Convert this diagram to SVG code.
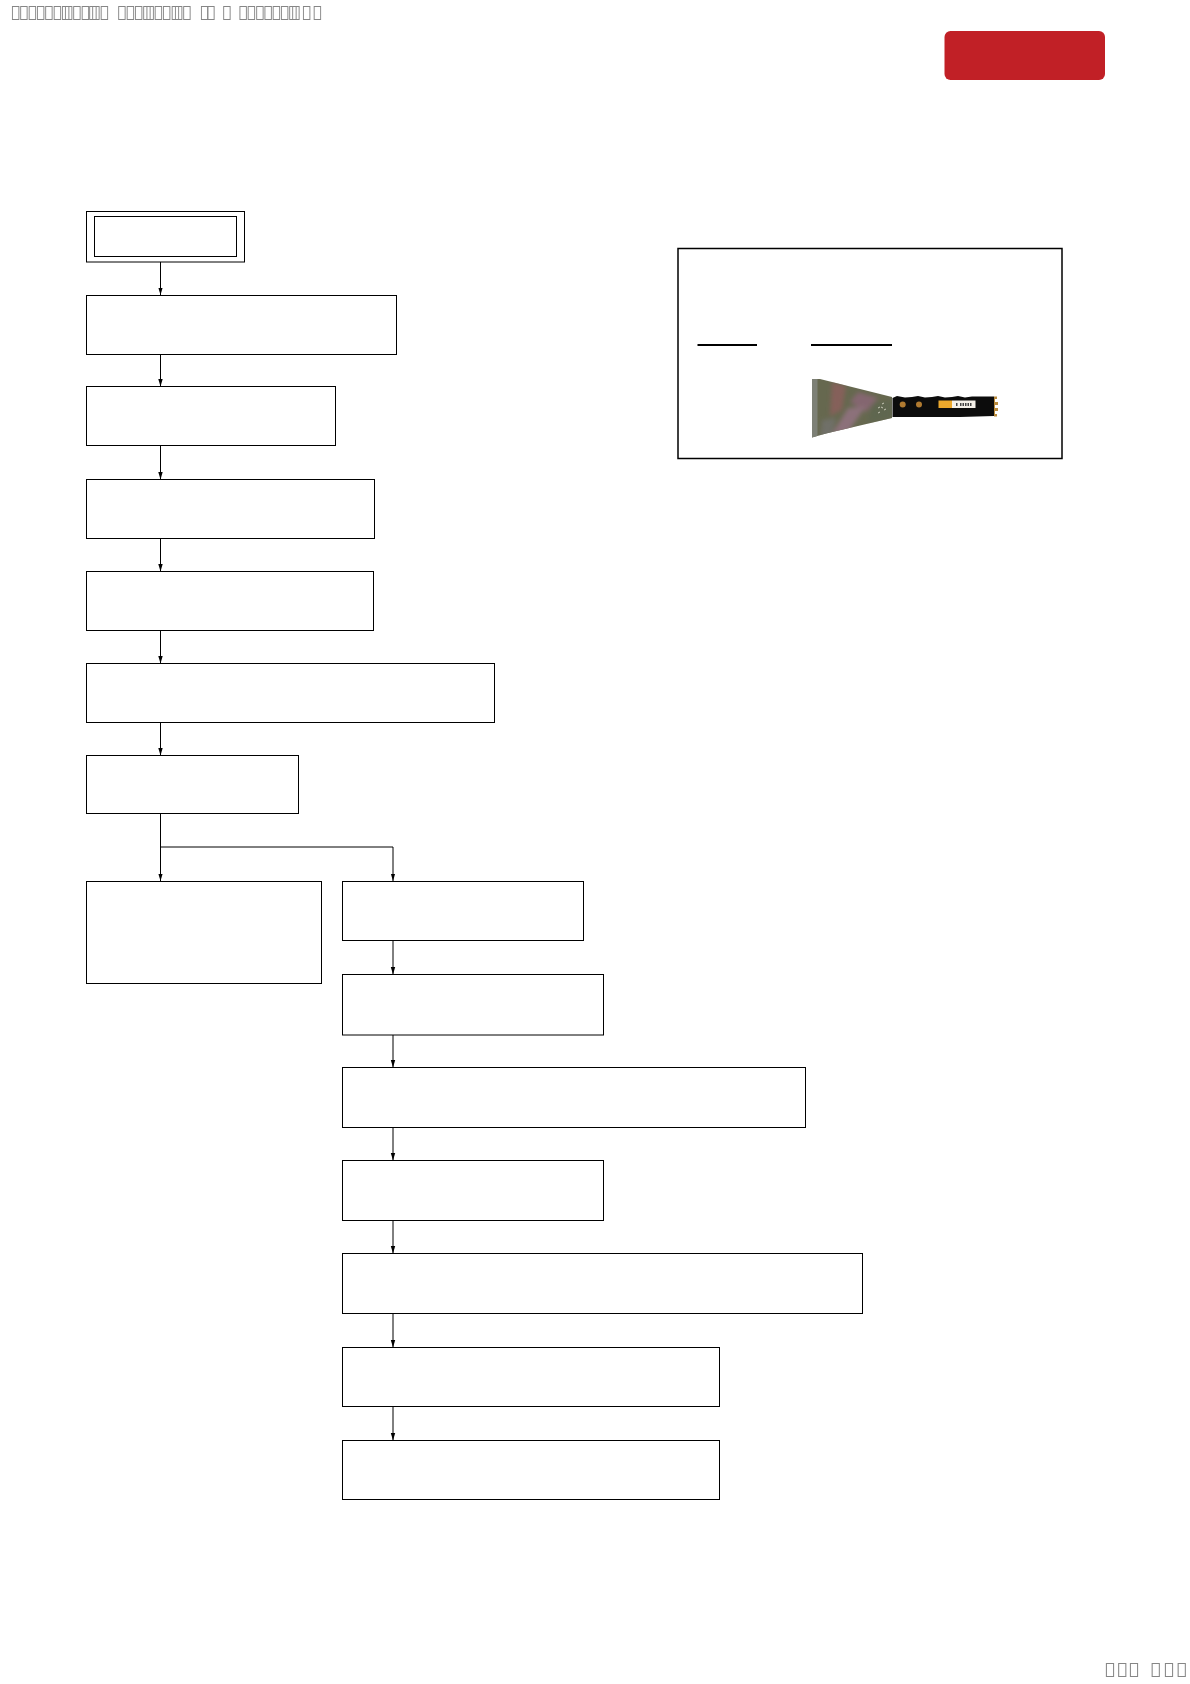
<svg xmlns="http://www.w3.org/2000/svg" width="1190" height="1684" viewBox="0 0 1190 1684">
<style>
.n{fill:#fff;stroke:#000;stroke-width:1}
.c{fill:none;stroke:#000;stroke-width:1}
.t{font-family:"Noto Sans",sans-serif;font-size:20px;fill:#808080;opacity:.95}
</style>
<defs>
<marker id="ah" markerUnits="userSpaceOnUse" markerWidth="8" markerHeight="6" refX="7.500" refY="2.500" orient="auto"><path d="M0,0.300L7.500,2.500L0,4.700z" fill="#000"/></marker>
<clipPath id="bc"><path d="M812,379H820L892,397V418L826,433.500L812,437.500z"/></clipPath>
<filter id="sf" x="-30%" y="-30%" width="160%" height="160%"><feGaussianBlur stdDeviation="2"/></filter>
</defs>
<g id="connectors">
<path class="c" marker-end="url(#ah)" d="M160.500,262V295"/>
<path class="c" marker-end="url(#ah)" d="M160.500,354.500V386.500"/>
<path class="c" marker-end="url(#ah)" d="M160.500,445.500V479.500"/>
<path class="c" marker-end="url(#ah)" d="M160.500,539V571.500"/>
<path class="c" marker-end="url(#ah)" d="M160.500,630.500V663.500"/>
<path class="c" marker-end="url(#ah)" d="M160.500,722.500V755.500"/>
<path class="c" marker-end="url(#ah)" d="M160.500,813.500V881"/>
<path class="c" marker-end="url(#ah)" d="M160.500,847H393V881"/>
<path class="c" marker-end="url(#ah)" d="M393,940.500V974.500"/>
<path class="c" marker-end="url(#ah)" d="M393,1035V1067.500"/>
<path class="c" marker-end="url(#ah)" d="M393,1127.500V1160.500"/>
<path class="c" marker-end="url(#ah)" d="M393,1220.500V1253.500"/>
<path class="c" marker-end="url(#ah)" d="M393,1313.500V1347.500"/>
<path class="c" marker-end="url(#ah)" d="M393,1407V1440.500"/>
</g>
<g id="start"><rect class="n" x="86.500" y="211.500" width="158" height="50.500"/><rect class="n" x="94.500" y="216.500" width="142" height="40"/></g>
<g id="n1"><rect class="n" x="86.500" y="295.500" width="310" height="59"/></g>
<g id="n2"><rect class="n" x="86.500" y="386.500" width="249" height="59"/></g>
<g id="n3"><rect class="n" x="86.500" y="479.500" width="288" height="59"/></g>
<g id="n4"><rect class="n" x="86.500" y="571.500" width="287" height="59"/></g>
<g id="n5"><rect class="n" x="86.500" y="663.500" width="408" height="59"/></g>
<g id="n6"><rect class="n" x="86.500" y="755.500" width="212" height="58"/></g>
<g id="n7"><rect class="n" x="86.500" y="881.500" width="235" height="102"/></g>
<g id="r1"><rect class="n" x="342.500" y="881.500" width="241" height="59"/></g>
<g id="r2"><rect class="n" x="342.500" y="974.500" width="261" height="60.500"/></g>
<g id="r3"><rect class="n" x="342.500" y="1067.500" width="463" height="60"/></g>
<g id="r4"><rect class="n" x="342.500" y="1160.500" width="261" height="60"/></g>
<g id="r5"><rect class="n" x="342.500" y="1253.500" width="520" height="60"/></g>
<g id="r6"><rect class="n" x="342.500" y="1347.500" width="377" height="59"/></g>
<g id="r7"><rect class="n" x="342.500" y="1440.500" width="377" height="59"/></g>
<g id="legend">
<rect x="678" y="248.500" width="384" height="210" fill="#fff" stroke="#000" stroke-width="1.500"/>
<path d="M697.500,345H757M811,345H892" stroke="#000" stroke-width="1.800" fill="none"/>
</g>
<g id="scraper">
<g clip-path="url(#bc)">
<rect x="812" y="378" width="82" height="61" fill="#66684f"/>
<g filter="url(#sf)">
<path d="M832,382L846,386L842,410L830,416z" fill="#85605a"/>
<path d="M858,392L878,398L866,412L850,402z" fill="#84666f"/>
<path d="M848,408L866,406L848,432L832,434z" fill="#8c717a"/>
<path d="M822,420L836,418L832,436L820,438z" fill="#6f6f68"/>
<path d="M872,404L892,400V418L868,422z" fill="#5f6650"/>
</g>
<rect x="812" y="378" width="5.500" height="61" fill="#7d8076"/>
<path d="M878,408l2,-1M882,404l2,-1M878,413l2,-1M884,410l2,-1M881,407l2,1" stroke="#c8c8b8" stroke-width="1" fill="none"/>
</g>
<path d="M892.500,398L897,396L905,397.500L912,397L918,396L925,397.500L932,397L938,396L945,397.500L952,397L958,396L965,397.500L972,396.500L994,396.500V416L960,417H892.500z" fill="#0c0c0c"/>
<path d="M994,396.500H997V399H995V402H998V405H995V408H998V411H995V414H997V416.500H994z" fill="#b88a3c"/>
<circle cx="902.700" cy="404.500" r="3" fill="#b07a30"/><circle cx="919" cy="404.500" r="3" fill="#b07a30"/>
<rect x="938.500" y="400.500" width="13.500" height="7.500" fill="#eca82c"/><rect x="952" y="400.500" width="23.500" height="7.500" fill="#f4f0e8"/>
<path d="M956,404.500H958M960,404.500H972" stroke="#444" stroke-width="3" stroke-dasharray="1.500 1" fill="none"/>
</g>
<g id="badge"><rect x="944.500" y="31" width="160.500" height="49" rx="6" fill="#c12026"/></g>
<text class="t" transform="scale(.9,1)" y="20" x="11.440 20.670 30 39.220 48.440 57.780 67 70.330 79.560 88.780 97.330 100.670 109.890 129.560 138.780 148.110 157.330 160.890 170.110 179.220 188.890 192.560 201.780 221.440 228.440 246.220 264.220 273.440 282.670 291.890 301.110 310.330 319.560 322.890 334.780 346.670">&#xE000;&#xE000;&#xE000;&#xE000;&#xE000;&#xE000;&#xE000;&#xE000;&#xE000;&#xE000;&#xE000;&#xE000;&#xE000;&#xE000;&#xE000;&#xE000;&#xE000;&#xE000;&#xE000;&#xE000;&#xE000;&#xE000;&#xE000;&#xE000;&#xE000;&#xE000;&#xE000;&#xE000;&#xE000;&#xE000;&#xE000;&#xE000;&#xE000;&#xE000;&#xE000;&#xE000;</text>
<text class="t" y="1677" x="1104 1116.300 1128 1149.700 1163 1175.700">&#xE000;&#xE000;&#xE000;&#xE000;&#xE000;&#xE000;</text>
</svg>
